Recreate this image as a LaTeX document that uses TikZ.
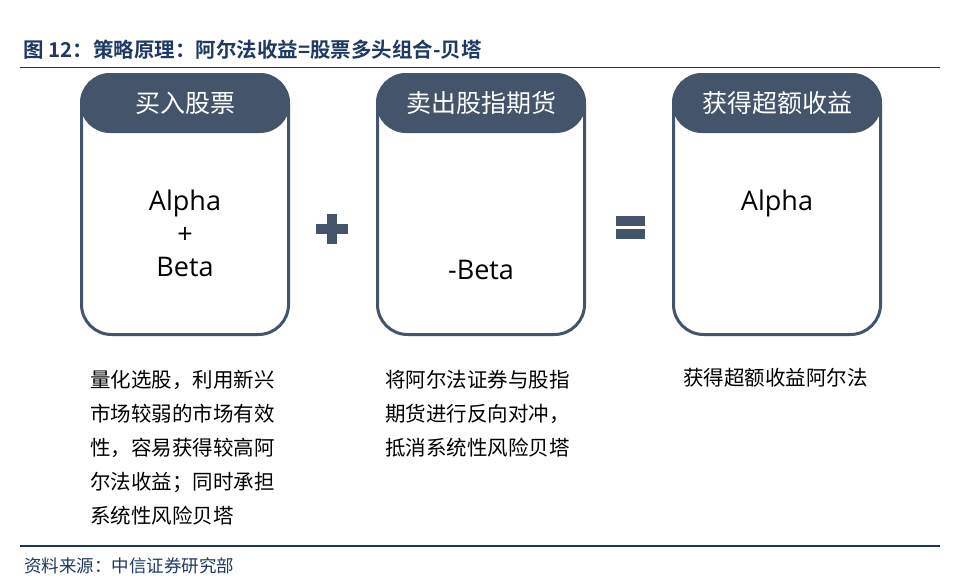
\documentclass[tikz,border=0pt]{standalone}
\usepackage{fontspec}
\setmainfont{Open Sans}
\newfontfamily\cjk{Noto Sans CJK SC}
\newfontfamily\cjkb{Noto Sans CJK SC Bold}
\definecolor{slate}{HTML}{44546A}
\definecolor{navy}{HTML}{1F3864}
\definecolor{rule}{HTML}{17375E}
\tikzset{
  boxframe/.style={draw=slate, line width=3pt, rounded corners=30pt, minimum width=207pt, minimum height=260pt, inner sep=0pt},
  hdr/.style={fill=slate, rounded corners=30pt, minimum width=210pt, minimum height=60pt, inner sep=0pt, text=white, font=\cjk\fontsize{25}{28}\selectfont},
  body/.style={anchor=base, inner sep=0pt, font=\fontsize{27}{30}\selectfont, text=black},
  desc/.style={anchor=north west, inner sep=0pt, align=left, font=\cjk\fontsize{20.5}{34}\selectfont, text=black},
  sym/.style={fill=slate},
}
\begin{document}
\begin{tikzpicture}[x=1pt,y=-1pt]
\useasboundingbox[fill=white] (0,0) rectangle (959,587);
% title
\node[anchor=base west, inner sep=0pt, text=navy, font=\cjkb\fontsize{20.5}{22}\selectfont] (title) at (23,57) {图 12：策略原理：阿尔法收益=股票多头组合-贝塔};
\coordinate (tl1) at (20,67.5);
\coordinate (tl2) at (940,67.5);
\draw[rule, line width=1.5pt] (tl1) -- (tl2);
% boxes
\node[boxframe] (b1) at (185,204.5) {};
\node[boxframe] (b2) at (481,204.5) {};
\node[boxframe] (b3) at (777,204.5) {};
\node[hdr] (h1) at (185,103) {买入股票};
\node[hdr] (h2) at (481,103) {卖出股指期货};
\node[hdr] (h3) at (777,103) {获得超额收益};
% body texts
\node[body] (a1) at (185,210) {Alpha};
\node[body] (p1) at (185,243) {+};
\node[body] (be1) at (185,276) {Beta};
\node[body] (be2) at (481,279) {-Beta};
\node[body] (a3) at (777,210) {Alpha};
% plus and equals
\fill[sym] (316,224) rectangle (348,234);
\fill[sym] (327,214) rectangle (337,244);
\fill[sym] (616,216) rectangle (645,226);
\fill[sym] (616,229) rectangle (645,239);
% descriptions
\node[desc] (d1) at (90,370) {量化选股，利用新兴\\市场较弱的市场有效\\性，容易获得较高阿\\尔法收益；同时承担\\系统性风险贝塔};
\node[desc] (d2) at (385,370) {将阿尔法证券与股指\\期货进行反向对冲，\\抵消系统性风险贝塔};
\node[desc] (d3) at (683,368) {获得超额收益阿尔法};
% bottom rule and source
\coordinate (bl1) at (20,546);
\coordinate (bl2) at (940,546);
\draw[rule, line width=1.5pt] (bl1) -- (bl2);
\node[anchor=base west, inner sep=0pt, text=navy, font=\cjk\fontsize{17.5}{20}\selectfont] (src) at (24,572) {资料来源：中信证券研究部};
\end{tikzpicture}
\end{document}
